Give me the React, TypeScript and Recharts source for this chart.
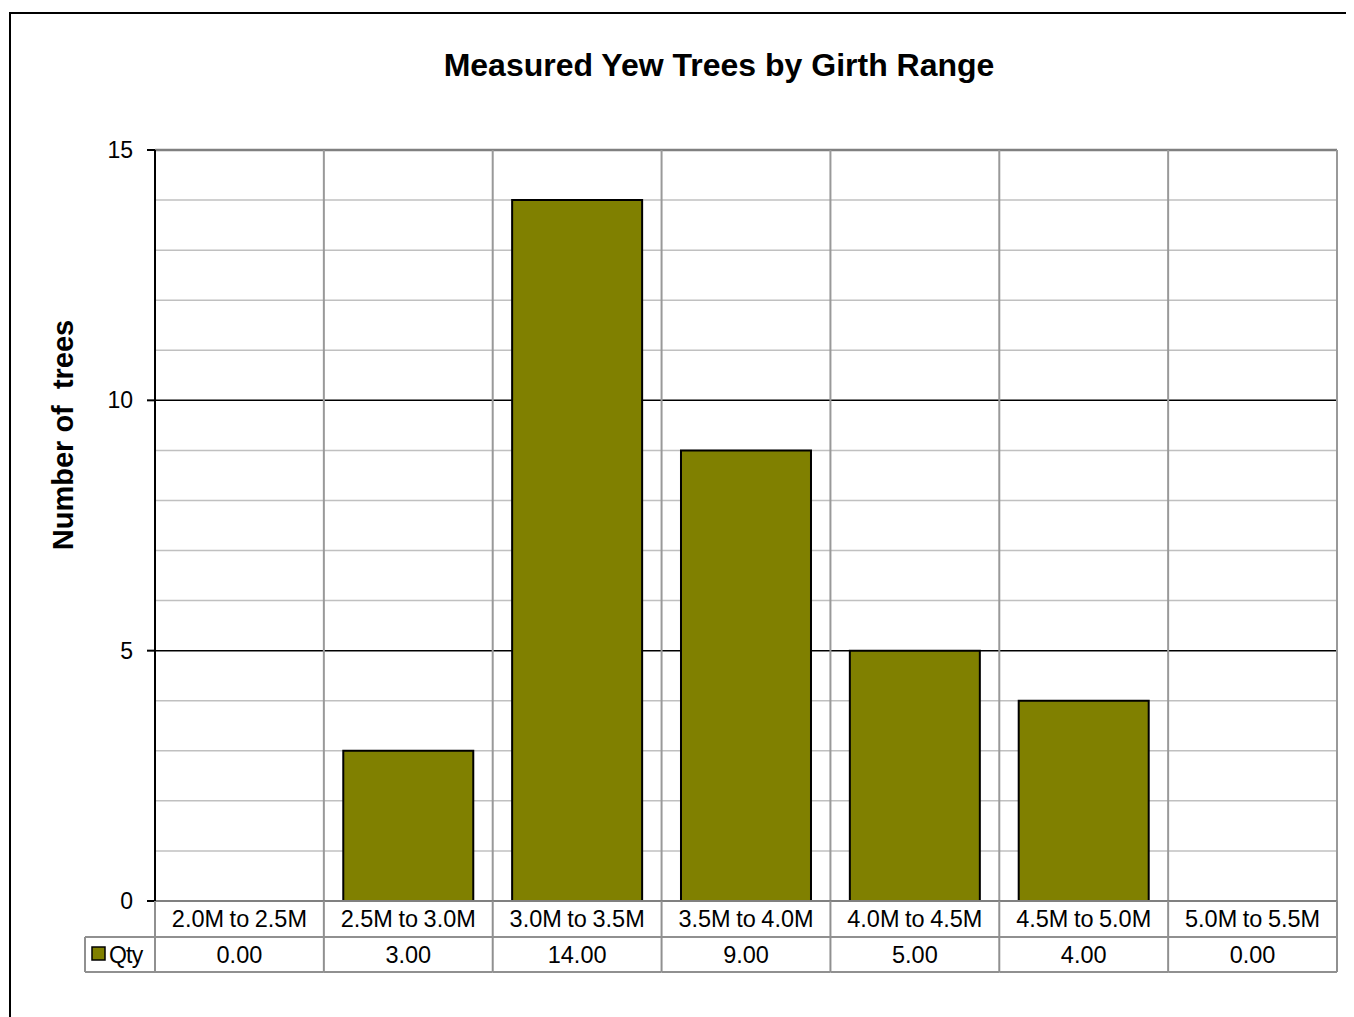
import React from "react"
import { BarChart, Bar, XAxis, YAxis, CartesianGrid, Customized } from "recharts"

const categories = ["2.0M to 2.5M", "2.5M to 3.0M", "3.0M to 3.5M", "3.5M to 4.0M", "4.0M to 4.5M", "4.5M to 5.0M", "5.0M to 5.5M"]
const qty = [0, 3, 14, 9, 5, 4, 0]
const yTicks = [0, 5, 10, 15]
const majorLines = [5, 10]
const minorLines = [1, 2, 3, 4, 6, 7, 8, 9, 11, 12, 13, 14]

const data = categories.map((c, i) => ({ name: c, qty: qty[i] }))

// layout (chart coordinates)
const W = 1346
const H = 1009
const MARGIN = { top: 142, right: 17, bottom: 44, left: 87 }
const Y_AXIS_W = 60
const X_AXIS_H = 72
const PLOT_W = W - MARGIN.left - MARGIN.right - Y_AXIS_W
const PLOT_BOTTOM = H - MARGIN.bottom - X_AXIS_H
const ROW1 = PLOT_BOTTOM + 36
const ROW2 = PLOT_BOTTOM + 71
const LEGEND_LEFT = 77
const FONT = "'Liberation Sans', Arial, sans-serif"
const TABLE_GREY = "#909090"
const OLIVE = "#808000"

function TableTick(props: any) {
  const { x, index, payload } = props
  const w = PLOT_W / categories.length
  const l = x - w / 2
  const r = x + w / 2
  return (
    <g>
      <text x={x} y={PLOT_BOTTOM + 26} textAnchor="middle" fontSize={23.5} wordSpacing={-1} fontFamily={FONT} fill="#000">
        {payload.value}
      </text>
      <text x={x} y={PLOT_BOTTOM + 62} textAnchor="middle" fontSize={23.5} fontFamily={FONT} fill="#000">
        {qty[index].toFixed(2)}
      </text>
      <line x1={r} x2={r} y1={PLOT_BOTTOM} y2={ROW2} stroke={TABLE_GREY} strokeWidth={2} />
      <line x1={l} x2={r} y1={ROW1} y2={ROW1} stroke={TABLE_GREY} strokeWidth={2} />
      <line x1={l} x2={r} y1={ROW2} y2={ROW2} stroke={TABLE_GREY} strokeWidth={2} />
      {index === 0 && (
        <g>
          <line x1={l} x2={l} y1={PLOT_BOTTOM} y2={ROW2} stroke={TABLE_GREY} strokeWidth={2} />
          <line x1={LEGEND_LEFT} x2={l} y1={ROW1} y2={ROW1} stroke={TABLE_GREY} strokeWidth={2} />
          <line x1={LEGEND_LEFT} x2={l} y1={ROW2} y2={ROW2} stroke={TABLE_GREY} strokeWidth={2} />
          <line x1={LEGEND_LEFT} x2={LEGEND_LEFT} y1={ROW1} y2={ROW2} stroke={TABLE_GREY} strokeWidth={2} />
          <rect x={LEGEND_LEFT + 7} y={ROW1 + 10} width={13} height={13} fill={OLIVE} stroke="#000" strokeWidth={1.5} />
          <text x={LEGEND_LEFT + 24} y={PLOT_BOTTOM + 62} fontSize={23} fontFamily={FONT} fill="#000" letterSpacing={-0.8}>
            Qty
          </text>
        </g>
      )}
    </g>
  )
}

function Title() {
  return (
    <g>
      <text x={711} y={68} textAnchor="middle" fontSize={32} fontWeight="bold" fontFamily={FONT} fill="#000" style={{ whiteSpace: "pre" }}>
        {"Measured Yew Trees by Girth Range"}
      </text>
      <text
        x={0}
        y={0}
        transform="translate(65,427) rotate(-90)"
        textAnchor="middle"
        fontSize={29}
        fontWeight="bold"
        fontFamily={FONT}
        fill="#000"
        style={{ whiteSpace: "pre" }}
      >
        {"Number of  trees"}
      </text>
    </g>
  )
}

export default function App() {
  return (
    <div style={{ position: "relative", width: W, height: H, overflow: "hidden", background: "#fff" }}>
      <div
        style={{
          position: "absolute",
          left: 1,
          top: 4,
          width: 1500,
          height: 1200,
          border: "2px solid #000",
          boxSizing: "border-box",
        }}
      />
      <div style={{ position: "absolute", left: 0, top: 0 }}>
        <BarChart width={W} height={H} data={data} margin={MARGIN} barCategoryGap="11.5%">
          <CartesianGrid vertical={false} horizontalValues={minorLines} stroke="#c0c0c0" strokeWidth={1.5} />
          <CartesianGrid vertical={false} horizontalValues={majorLines} stroke="#000" strokeWidth={1.5} />
          <CartesianGrid vertical={false} horizontalValues={[15]} stroke="#808080" strokeWidth={2.5} />
          <CartesianGrid
            horizontal={false}
            stroke="#999"
            strokeWidth={2}
            verticalCoordinatesGenerator={({ offset }: any) =>
              categories.map((_, i) => offset.left + ((i + 1) * offset.width) / categories.length)
            }
          />
          <XAxis
            dataKey="name"
            height={X_AXIS_H}
            axisLine={{ stroke: "#808080", strokeWidth: 2 }}
            tickLine={false}
            tick={<TableTick />}
            interval={0}
          />
          <YAxis
            width={Y_AXIS_W}
            domain={[0, 15]}
            ticks={yTicks}
            interval={0}
            axisLine={{ stroke: "#000", strokeWidth: 2 }}
            tickLine={{ stroke: "#000", strokeWidth: 2 }}
            tickSize={8}
            tickMargin={14}
            tick={{ fontSize: 23, fontFamily: FONT, fill: "#000" }}
          />
          <Bar dataKey="qty" fill={OLIVE} stroke="#000" strokeWidth={2} isAnimationActive={false} />
          <Customized component={Title} />
        </BarChart>
      </div>
    </div>
  )
}
